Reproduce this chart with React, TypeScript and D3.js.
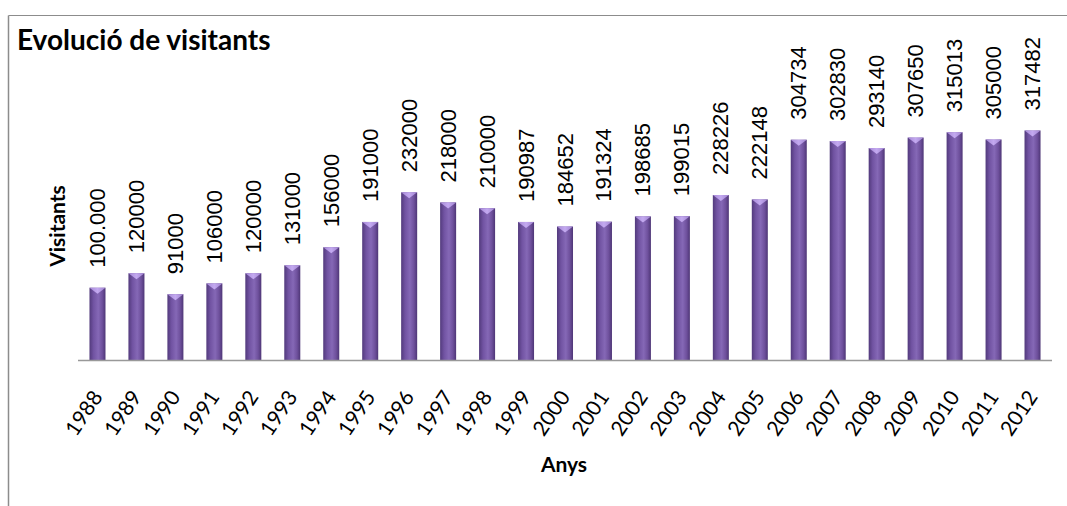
import React from "react";
import * as d3 from "d3";

const years = ["1988","1989","1990","1991","1992","1993","1994","1995","1996","1997","1998","1999","2000","2001","2002","2003","2004","2005","2006","2007","2008","2009","2010","2011","2012"];
const visitors = [100000,120000,91000,106000,120000,131000,156000,191000,232000,218000,210000,190987,184652,191324,198685,199015,228226,222148,304734,302830,293140,307650,315013,305000,317482];
const valueLabels = ["100.000","120000","91000","106000","120000","131000","156000","191000","232000","218000","210000","190987","184652","191324","198685","199015","228226","222148","304734","302830","293140","307650","315013","305000","317482"];

const W = 1067, H = 506;
const labelFont = "'Liberation Sans', Arial, sans-serif";
const uiFont = "Lato, 'Open Sans', sans-serif";

export default function App() {
  const x = d3.scaleBand<string>().domain(years).range([78, 1052]).paddingInner(0.589).paddingOuter(0.2945);
  const y = d3.scaleLinear().domain([0, 350000]).range([360, 107]);
  const bw = x.bandwidth();
  return (
    <svg width={W} height={H} style={{ position: "absolute", left: 0, top: 0, background: "#fff" }}>
      <defs>
        <linearGradient id="barGrad" x1="0" x2="1" y1="0" y2="0">
          <stop offset="0" stopColor="#523a7c" />
          <stop offset="0.25" stopColor="#7153a2" />
          <stop offset="0.55" stopColor="#8568b6" />
          <stop offset="0.8" stopColor="#6e509c" />
          <stop offset="1" stopColor="#4e3676" />
        </linearGradient>
        <linearGradient id="capGrad" x1="0" x2="1" y1="0" y2="0">
          <stop offset="0" stopColor="#a688d6" />
          <stop offset="0.5" stopColor="#c3a9f0" />
          <stop offset="1" stopColor="#a083d0" />
        </linearGradient>
      </defs>
      <line x1={8.5} y1={15.5} x2={W} y2={15.5} stroke="#8c8c8c" strokeWidth={1} />
      <line x1={8.5} y1={15.5} x2={8.5} y2={H} stroke="#8c8c8c" strokeWidth={1.5} />
      <text x={17} y={50} fontFamily={uiFont} fontWeight="bold" fontSize={28} fill="#000">Evolució de visitants</text>
      <text transform={`translate(65,226) rotate(-90)`} textAnchor="middle" fontFamily={uiFont} fontWeight="bold" fontSize={21} fill="#000">Visitants</text>
      <text x={564} y={472} textAnchor="middle" fontFamily={uiFont} fontWeight="bold" fontSize={21} fill="#000">Anys</text>
      {years.map((yr, i) => {
        const x0 = x(yr)!;
        const top = y(visitors[i]);
        const cx = x0 + bw / 2;
        return (
          <g key={yr}>
            <rect x={x0} y={top} width={bw} height={360 - top} fill="url(#barGrad)" />
            <path d={`M${x0},${top} L${x0 + bw},${top} L${cx},${top + 6} Z`} fill="url(#capGrad)" />
            <text transform={`translate(${cx},${top - 20}) rotate(-90)`} textAnchor="start" dominantBaseline="central" fontFamily={labelFont} fontSize={22} fill="#000">{valueLabels[i]}</text>
            <text transform={`translate(${cx + 6},${397}) rotate(-56)`} textAnchor="end" fontFamily={uiFont} fontSize={21} fill="#000">{yr}</text>
          </g>
        );
      })}
      <line x1={78} x2={1052} y1={360.5} y2={360.5} stroke="#999" strokeWidth={1.5} />
    </svg>
  );
}
